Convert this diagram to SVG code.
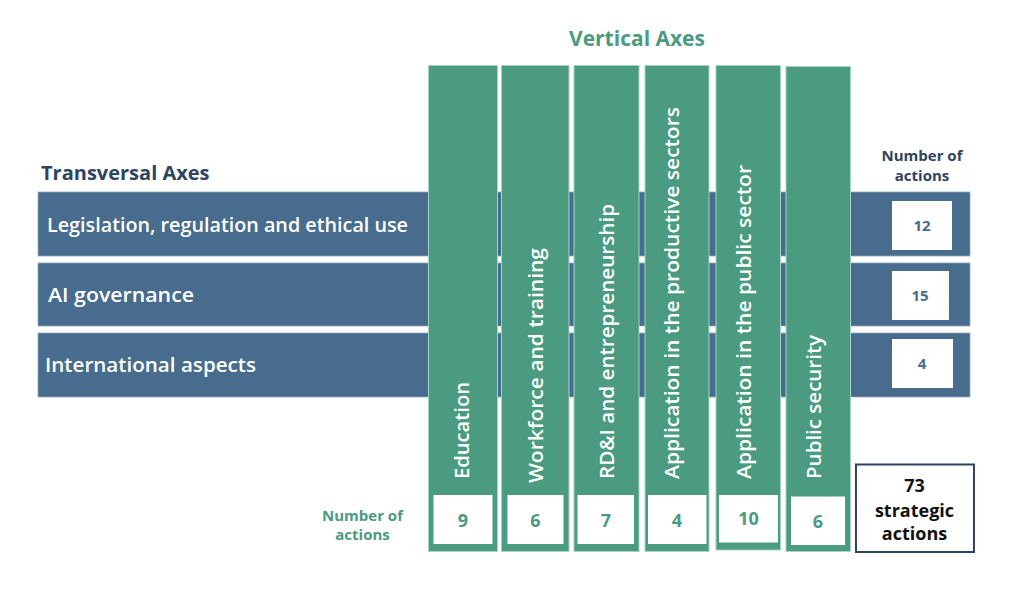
<svg xmlns="http://www.w3.org/2000/svg" width="1024" height="610" viewBox="0 0 1024 610">
<style>
.bar{fill:#476C8E;stroke:#8EA8BF;stroke-width:0.8}
.col{fill:#4A9B80;stroke:#A5D3C3;stroke-width:1}
.wbox{fill:#FFFFFF}
.lbl{font-family:"Open Sans","Noto Sans",sans-serif;font-weight:600;font-size:19.5px;fill:#FFFFFF}
.vlbl{font-family:"Open Sans","Noto Sans",sans-serif;font-weight:600;font-size:20px;fill:#FFFFFF}
.gnum{font-family:"Open Sans","Noto Sans",sans-serif;font-weight:700;font-size:18px;fill:#4A9B80;text-anchor:middle}
.bnum{font-family:"Open Sans","Noto Sans",sans-serif;font-weight:700;font-size:15px;fill:#476C8E;text-anchor:middle}
.ttl{font-family:"Open Sans","Noto Sans",sans-serif;font-weight:700}
.small{font-family:"Open Sans","Noto Sans",sans-serif;font-weight:700;font-size:15px;text-anchor:middle}
</style>
<rect width="1024" height="610" fill="#FFFFFF"/>

<text class="ttl" x="637" y="46" font-size="21" fill="#4A9B80" text-anchor="middle">Vertical Axes</text>
<text class="ttl" x="41" y="180" font-size="20" fill="#2E4461">Transversal Axes</text>

<g id="hdr-right" class="small">
<text x="922" y="161" fill="#2E4461">Number of</text>
<text x="922" y="181" fill="#2E4461">actions</text>
</g>

<g id="transversal-1">
<rect class="bar" x="38" y="192" width="932" height="64"/>
<text class="lbl" x="47" y="232" textLength="361" lengthAdjust="spacingAndGlyphs">Legislation, regulation and ethical use</text>
<rect class="wbox" x="892" y="201" width="60" height="49"/>
<text class="bnum" x="922" y="231">12</text>
</g>
<g id="transversal-2">
<rect class="bar" x="38" y="263" width="932" height="63"/>
<text class="lbl" x="48" y="302" textLength="146" lengthAdjust="spacingAndGlyphs">AI governance</text>
<rect class="wbox" x="892" y="271" width="57" height="49"/>
<text class="bnum" x="920" y="301">15</text>
</g>
<g id="transversal-3">
<rect class="bar" x="38" y="333" width="932" height="64"/>
<text class="lbl" x="45" y="372" textLength="211" lengthAdjust="spacingAndGlyphs">International aspects</text>
<rect class="wbox" x="892" y="339" width="61" height="49"/>
<text class="bnum" x="922" y="369">4</text>
</g>

<g id="vertical-1">
<rect class="col" x="428.5" y="65.5" width="69" height="486"/>
<text class="vlbl" transform="translate(469,479) rotate(-90)" textLength="97" lengthAdjust="spacingAndGlyphs">Education</text>
<rect class="wbox" x="433.5" y="495" width="59" height="49"/>
<text class="gnum" x="463" y="527">9</text>
</g>
<g id="vertical-2">
<rect class="col" x="501.5" y="65.5" width="67.5" height="486"/>
<text class="vlbl" transform="translate(543,483) rotate(-90)" textLength="235" lengthAdjust="spacingAndGlyphs">Workforce and training</text>
<rect class="wbox" x="507.5" y="495" width="56" height="49"/>
<text class="gnum" x="535.5" y="527">6</text>
</g>
<g id="vertical-3">
<rect class="col" x="574" y="65.5" width="65" height="486"/>
<text class="vlbl" transform="translate(613.5,479) rotate(-90)" textLength="275" lengthAdjust="spacingAndGlyphs">RD&amp;I and entrepreneurship</text>
<rect class="wbox" x="577.5" y="495" width="56.5" height="49"/>
<text class="gnum" x="606" y="527">7</text>
</g>
<g id="vertical-4">
<rect class="col" x="645" y="65.5" width="64" height="486"/>
<text class="vlbl" transform="translate(679,479) rotate(-90)" textLength="372" lengthAdjust="spacingAndGlyphs">Application in the productive sectors</text>
<rect class="wbox" x="648" y="495" width="58.5" height="49"/>
<text class="gnum" x="677" y="527">4</text>
</g>
<g id="vertical-5">
<rect class="col" x="716" y="65.5" width="64.5" height="484.5"/>
<text class="vlbl" transform="translate(751,479) rotate(-90)" textLength="314" lengthAdjust="spacingAndGlyphs">Application in the public sector</text>
<rect class="wbox" x="719" y="495" width="59" height="47.5"/>
<text class="gnum" x="748.5" y="525" font-size="15">10</text>
</g>
<g id="vertical-6">
<rect class="col" x="786" y="66.5" width="64.5" height="485"/>
<text class="vlbl" transform="translate(821,479) rotate(-90)" textLength="144" lengthAdjust="spacingAndGlyphs">Public security</text>
<rect class="wbox" x="791" y="496.5" width="54" height="48.5"/>
<text class="gnum" x="818" y="528">6</text>
</g>

<g id="hdr-left" class="small">
<text x="362.5" y="521" fill="#4A9B80">Number of</text>
<text x="362.5" y="540" fill="#4A9B80">actions</text>
</g>

<g id="total">
<rect x="856" y="464.5" width="118" height="87.5" fill="#FFFFFF" stroke="#2E4461" stroke-width="2"/>
<g class="ttl" font-size="18" fill="#111111" text-anchor="middle">
<text x="914.5" y="492">73</text>
<text x="914.5" y="517">strategic</text>
<text x="914.5" y="540">actions</text>
</g>
</g>
<g id="connectors"/>
</svg>
